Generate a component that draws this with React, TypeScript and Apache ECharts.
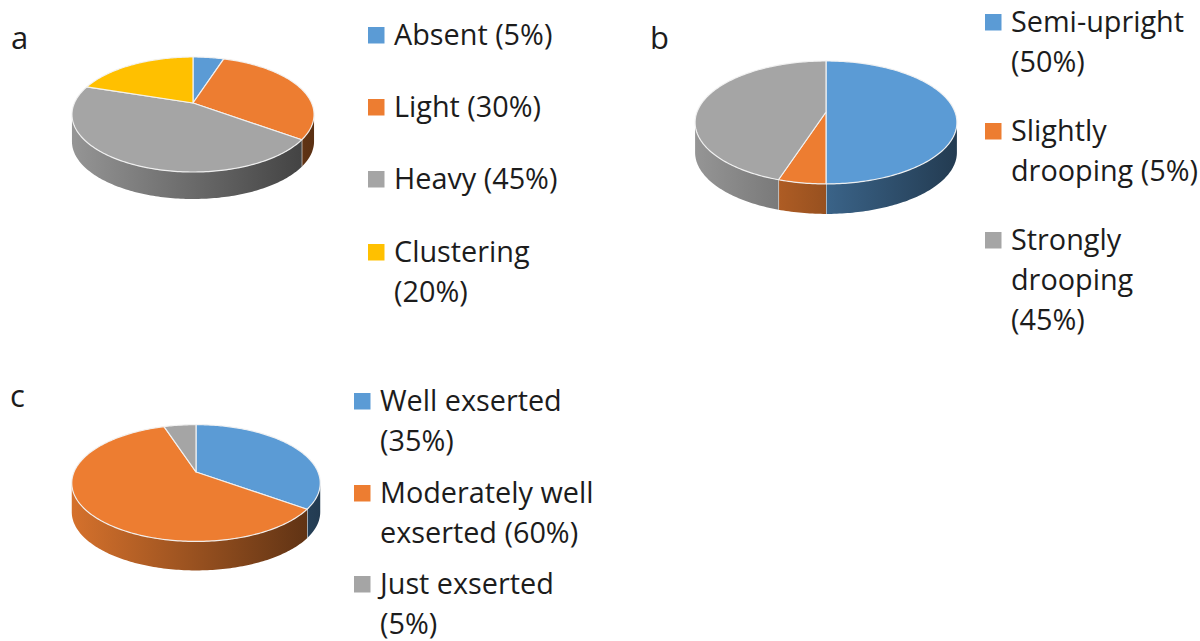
import React, { useEffect, useRef } from "react";
import * as echarts from "echarts";

const categoriesA = ["Absent (5%)", "Light (30%)", "Heavy (45%)", "Clustering\n(20%)"];
const valuesA = [5, 30, 45, 20];
const categoriesB = ["Semi-upright\n(50%)", "Slightly\ndrooping (5%)", "Strongly\ndrooping\n(45%)"];
const valuesB = [50, 5, 45];
const categoriesC = ["Well exserted\n(35%)", "Moderately well\nexserted (60%)", "Just exserted\n(5%)"];
const valuesC = [35, 60, 5];
const panelLetters = ["a", "b", "c"];
const palette = ["#5B9BD5", "#ED7D31", "#A5A5A5", "#FFC000"];

const pies = [
  { values: valuesA, cats: categoriesA, cx: 193, cy: 103, A: 118.6, B: 55.2, k: 0.2, depth: 27,
    swatchX: 368, textX: 394, rows: [35, 107, 179, 252], letterX: 11, letterY: 37 },
  { values: valuesB, cats: categoriesB, cx: 826, cy: 112, A: 129, B: 59.7, k: 0.17, depth: 30,
    swatchX: 985, textX: 1011, rows: [22, 131, 240], letterX: 650, letterY: 37 },
  { values: valuesC, cats: categoriesC, cx: 196, cy: 472, A: 122, B: 56.3, k: 0.189, depth: 29,
    swatchX: 354, textX: 380, rows: [401, 493, 584], letterX: 10, letterY: 395 },
];

const FONT = '"Open Sans", sans-serif';
const LINE = 40;
const TEXT_SHIFT = -1.5;
const TEXT_COLOR = "#1c1c1c";
const EDGE = "rgba(242,242,242,0.95)";

function shade(hex: string, f: number) {
  const n = parseInt(hex.slice(1), 16);
  const c = [(n >> 16) & 255, (n >> 8) & 255, n & 255].map((v) => Math.round(v * f));
  return `rgb(${c[0]},${c[1]},${c[2]})`;
}

function makeSeries(p: (typeof pies)[number]) {
  const project = (pct: number) => {
    const th = (pct / 100) * 2 * Math.PI;
    const u = Math.sin(th);
    const t = -Math.cos(th);
    const d = 1 - p.k * t;
    return [p.cx + (p.A * u) / d, p.cy + (p.B * t) / d];
  };
  const arc = (a: number, b: number) => {
    const pts: number[][] = [];
    const n = Math.max(2, Math.ceil((b - a) * 3.6));
    for (let i = 0; i <= n; i++) pts.push(project(a + ((b - a) * i) / n));
    return pts;
  };
  // front half of the rim, between the two silhouette tangents
  const tangent = (Math.acos(-p.k) / (2 * Math.PI)) * 100;
  const visStart = tangent;
  const visEnd = 100 - tangent;
  const rx = p.A / Math.sqrt(1 - p.k * p.k);

  let acc = 0;
  const data = p.values.map((v, i) => {
    const item = { value: [acc, acc + v], name: p.cats[i].replace(/\n/g, " ") };
    acc += v;
    return item;
  });

  return {
    type: "custom" as const,
    coordinateSystem: "none",
    silent: true,
    data,
    renderItem: (params: any, api: any) => {
      const start = api.value(0) as number;
      const end = api.value(1) as number;
      const color = palette[params.dataIndex];
      const children: any[] = [];
      const a = Math.max(start, visStart);
      const b = Math.min(end, visEnd);
      if (b > a) {
        const rim = arc(a, b);
        const low = rim.map((q) => [q[0], q[1] + p.depth]).reverse();
        children.push({
          type: "polygon",
          shape: { points: rim.concat(low) },
          style: {
            fill: new echarts.graphic.LinearGradient(
              p.cx - rx, 0, p.cx + rx, 0,
              [
                { offset: 0, color: shade(color, 0.9) },
                { offset: 1, color: shade(color, 0.38) },
              ],
              true
            ),
          },
        });
        if (end < visEnd) {
          const q = project(end);
          children.push({
            type: "line",
            shape: { x1: q[0], y1: q[1], x2: q[0], y2: q[1] + p.depth },
            style: { stroke: EDGE, lineWidth: 1.2 },
          });
        }
      }
      children.push({
        type: "polygon",
        shape: { points: [[p.cx, p.cy], ...arc(start, end)] },
        style: { fill: color, stroke: EDGE, lineWidth: 1.2, lineJoin: "round" },
      });
      return { type: "group", children };
    },
  };
}

function makeGraphics() {
  const els: any[] = [];
  pies.forEach((p, pi) => {
    els.push({
      type: "text",
      x: p.letterX,
      y: p.letterY,
      style: { text: panelLetters[pi], font: `31px ${FONT}`, fill: TEXT_COLOR, verticalAlign: "middle" },
    });
    p.cats.forEach((c, i) => {
      els.push({
        type: "rect",
        shape: { x: p.swatchX, y: p.rows[i] - 8, width: 16.5, height: 16.5 },
        style: { fill: palette[i] },
      });
      const lines = c.split("\n");
      lines.forEach((line, li) => {
        els.push({
          type: "text",
          x: p.textX,
          y: p.rows[i] + li * LINE + TEXT_SHIFT,
          style: { text: line, font: `28.8px ${FONT}`, fill: TEXT_COLOR, verticalAlign: "middle" },
        });
      });
    });
  });
  return els;
}

export default function App() {
  const ref = useRef<HTMLDivElement>(null);
  useEffect(() => {
    const chart = echarts.init(ref.current!, null, { renderer: "svg" });
    chart.setOption({
      animation: false,
      backgroundColor: "#ffffff",
      series: pies.map(makeSeries),
      graphic: { elements: makeGraphics() },
    });
    return () => chart.dispose();
  }, []);
  return <div ref={ref} style={{ position: "absolute", left: 0, top: 0, width: 1200, height: 641 }} />;
}
